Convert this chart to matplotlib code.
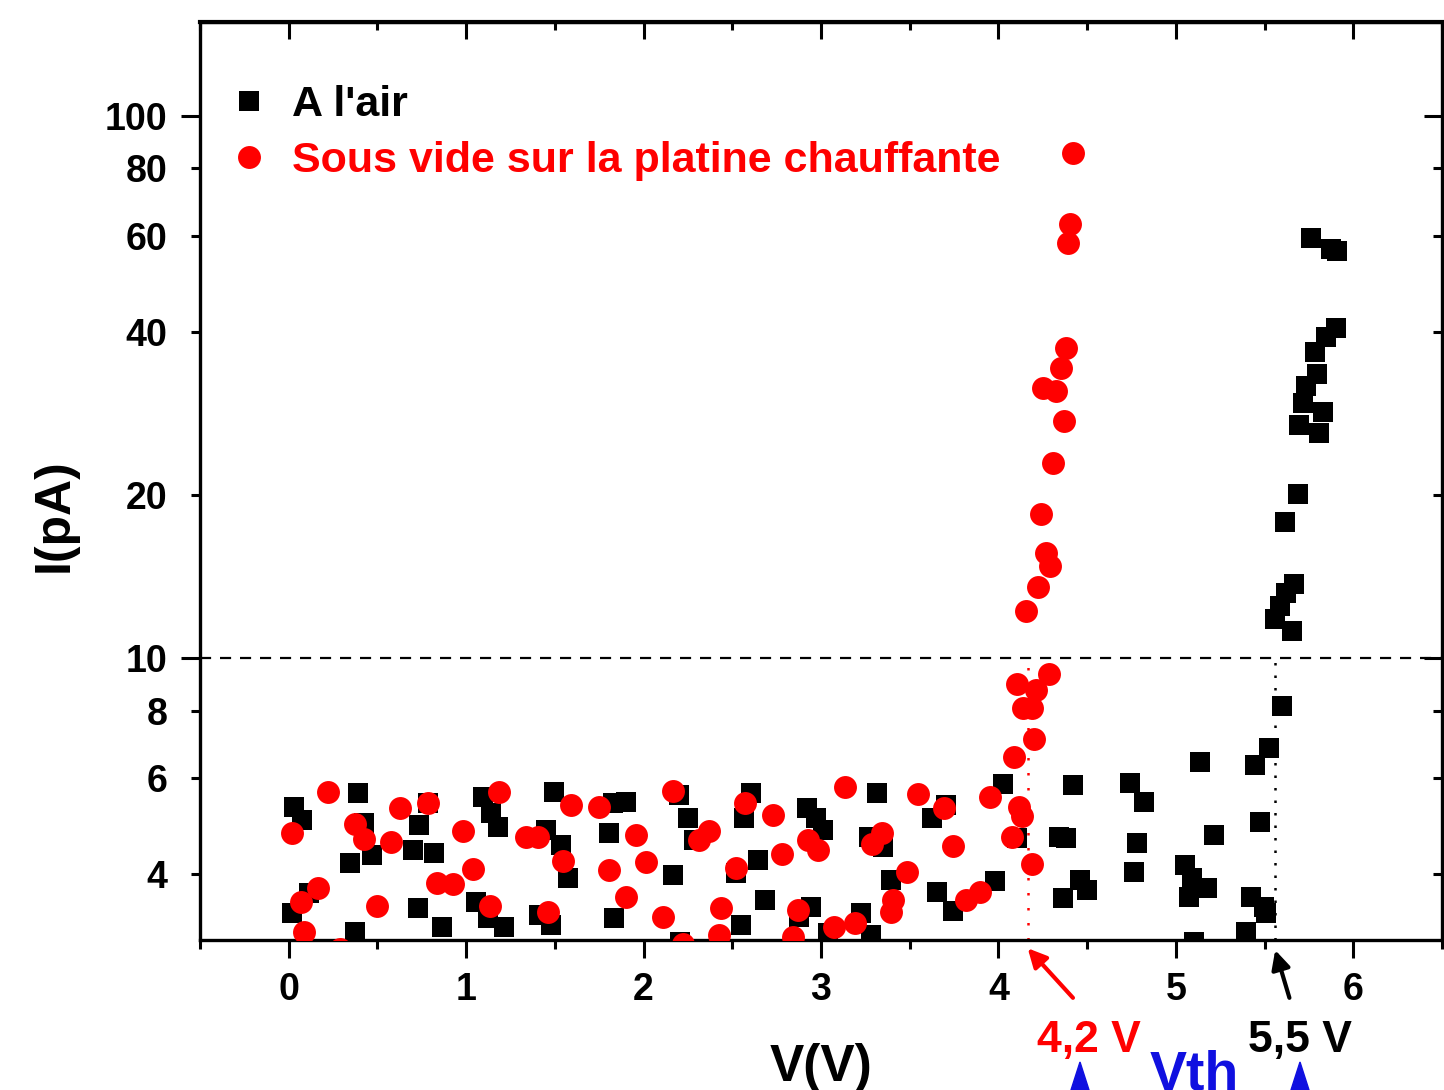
import matplotlib
matplotlib.use("Agg")
import matplotlib.pyplot as plt
import numpy as np

plt.rcParams['font.family'] = ['Liberation Sans', 'DejaVu Sans']
plt.rcParams['font.weight'] = 'bold'

# --- data (V in volts, I in pA) ---
air_v = [0.028, 0.073, 0.017, 0.112, 0.343, 0.388, 0.427, 0.467, 0.371, 0.737,
         0.787, 0.703, 0.821, 0.726, 0.866, 1.097, 1.142, 1.181, 1.057, 1.125,
         1.215, 1.496, 1.451, 1.535, 1.575, 1.412, 1.479, 1.828, 1.901, 1.805,
         1.834, 2.250, 2.199, 2.283, 2.165, 2.205, 2.604, 2.565, 2.643, 2.520,
         2.683, 2.548, 2.919, 2.970, 3.009, 2.942, 2.874, 3.037, 3.223, 3.279,
         3.313, 3.273, 3.352, 3.397, 3.656, 3.746, 3.628, 3.706, 3.982, 4.027,
         4.106, 4.421, 4.342, 4.381, 4.460, 4.499, 4.364, 4.741, 4.820, 4.781,
         4.764, 5.135, 5.444, 5.523, 5.472, 5.214, 5.051, 5.090, 5.174, 5.073,
         5.422, 5.495, 5.506, 5.394, 5.101, 5.596, 5.652, 5.557, 5.585, 5.619,
         5.664, 5.613, 5.686, 5.804, 5.692, 5.832, 5.714, 5.731, 5.793, 5.782,
         5.849, 5.900, 5.872, 5.911, 5.759]
air_i = [5.32, 5.02, 3.38, 3.68, 4.19, 5.63, 4.96, 4.33, 3.13, 4.92,
         5.40, 4.42, 4.37, 3.46, 3.19, 5.54, 5.18, 4.88, 3.55, 3.32,
         3.19, 5.66, 4.82, 4.52, 3.93, 3.36, 3.22, 5.40, 5.43, 4.76,
         3.32, 5.07, 5.58, 4.62, 3.98, 3.00, 5.63, 5.07, 4.24, 4.01,
         3.58, 3.22, 5.29, 5.07, 4.82, 3.48, 3.33, 3.11, 3.38, 3.09,
         5.63, 4.68, 4.48, 3.89, 3.71, 3.42, 5.07, 5.36, 3.88, 5.86,
         4.66, 5.84, 4.68, 4.66, 3.89, 3.73, 3.61, 5.88, 5.43, 4.56,
         4.03, 6.43, 6.35, 6.82, 4.98, 4.72, 4.15, 3.93, 3.76, 3.62,
         3.62, 3.48, 3.39, 3.13, 3.00, 8.15, 11.2, 11.8, 12.5, 13.2,
         13.7, 17.8, 20.1, 26.0, 26.9, 28.4, 29.5, 31.8, 33.4, 36.7,
         39.1, 40.6, 56.9, 56.3, 59.6]

vac_v = [0.017, 0.219, 0.371, 0.427, 0.579, 0.630, 0.787, 0.984, 1.040, 0.838,
         0.928, 0.163, 0.067, 0.084, 0.495, 0.287, 1.136, 1.187, 1.339, 1.406,
         1.547, 1.462, 1.592, 1.749, 1.957, 2.013, 1.805, 1.901, 2.109, 2.165,
         2.368, 2.312, 2.222, 2.435, 2.424, 2.570, 2.728, 2.778, 2.520, 2.925,
         2.981, 2.868, 2.840, 3.133, 3.076, 3.194, 3.549, 3.695, 3.341, 3.285,
         3.746, 3.487, 3.403, 3.397, 3.819, 3.898, 3.954, 4.089, 4.201, 4.117,
         4.134, 4.078, 4.190, 4.286, 4.106, 4.213, 4.140, 4.190, 4.156, 4.224,
         4.291, 4.269, 4.241, 4.308, 4.370, 4.325, 4.252, 4.353, 4.381, 4.393,
         4.404, 4.421]
vac_i = [4.76, 5.66, 4.94, 4.64, 4.58, 5.29, 5.40, 4.80, 4.08, 3.84,
         3.83, 3.76, 3.55, 3.13, 3.49, 2.91, 3.49, 5.66, 4.68, 4.68,
         4.22, 3.40, 5.36, 5.32, 4.72, 4.21, 4.06, 3.62, 3.33, 5.68,
         4.80, 4.62, 2.97, 3.46, 3.09, 5.40, 5.14, 4.35, 4.10, 4.62,
         4.42, 3.43, 3.06, 5.78, 3.19, 3.25, 5.61, 5.29, 4.76, 4.54,
         4.50, 4.03, 3.58, 3.40, 3.58, 3.70, 5.54, 6.57, 7.09, 5.32,
         5.11, 4.68, 4.17, 9.34, 8.95, 8.73, 8.10, 8.10, 12.2, 13.5,
         14.8, 15.6, 18.4, 22.9, 27.4, 31.1, 31.5, 34.3, 37.3, 58.3,
         63.2, 85.4]

x_major = [0, 1, 2, 3, 4, 5, 6]
x_minor = [-0.5, 0.5, 1.5, 2.5, 3.5, 4.5, 5.5, 6.5]
y_major = [10, 100]
y_minor = [4, 6, 8, 20, 40, 60, 80]

vth_vac = 4.165
vth_air = 5.56
i_ref = 10

fig = plt.figure(figsize=(14.44, 10.90), dpi=100)
ax = fig.add_axes([200 / 1444, 1 - 940 / 1090, 1242 / 1444, 918 / 1090])

ax.plot(air_v, air_i, 's', color='black', markersize=14.5, markeredgewidth=0,
        label="A l'air", zorder=3)
ax.plot(vac_v, vac_i, 'o', color='red', markersize=16.5, markeredgewidth=0,
        label="Sous vide sur la platine chauffante", zorder=4)

ax.set_yscale('log')
ax.set_xlim(-0.5, 6.5)
ax.set_ylim(3.02, 149)

ax.axhline(i_ref, color='black', linestyle=(0, (5, 4)), linewidth=1.6, zorder=2)
ax.plot([vth_vac, vth_vac], [3.02, i_ref], color='red', linestyle=(0, (1, 5)),
        linewidth=1.8, zorder=2)
ax.plot([vth_air, vth_air], [3.02, i_ref], color='black', linestyle=(0, (1, 4)),
        linewidth=1.8, zorder=5)

for sp in ax.spines.values():
    sp.set_linewidth(2.4)

lab_kw = dict(fontsize=27, fontweight='bold')
ax.set_xticks(x_major, [str(v) for v in x_major], **lab_kw)
ax.set_xticks(x_minor, minor=True)
ax.set_yticks(y_major, [str(v) for v in y_major], **lab_kw)
ax.set_yticks(y_minor, [str(v) for v in y_minor], minor=True, **lab_kw)
ax.tick_params(axis='x', which='major', direction='out', length=13, width=2.2, pad=10)
ax.tick_params(axis='x', which='minor', direction='out', length=6.5, width=2.2)
ax.tick_params(axis='y', which='major', direction='out', length=13.5, width=2.2, pad=10)
ax.tick_params(axis='y', which='minor', direction='out', length=6.5, width=2.2, pad=17)

top = ax.secondary_xaxis('top')
top.set_xticks(x_major, [])
top.set_xticks(x_minor, minor=True)
top.tick_params(which='major', direction='in', length=12.5, width=2.2)
top.tick_params(which='minor', direction='in', length=6, width=2.2)
top.spines['top'].set_linewidth(3)

right = ax.secondary_yaxis('right')
right.set_yticks(y_major, [])
right.set_yticks(y_minor, [], minor=True)
right.tick_params(which='major', direction='in', length=13, width=2.2)
right.tick_params(which='minor', direction='in', length=6.5, width=2.2)

leg = ax.legend(loc='upper left', bbox_to_anchor=(0.01, 0.95), frameon=False,
                prop={'weight': 'bold', 'size': 31},
                labelcolor=['black', 'red'], handlelength=0.9,
                handletextpad=0.55, labelspacing=0.38, markerscale=1.0,
                borderaxespad=0)

fig.text(55 / 1444, 1 - 515 / 1090, 'I(pA)', rotation=90, ha='center',
         va='center', fontsize=36, fontweight='bold')
fig.text(821 / 1444, 1 - 1043 / 1090, 'V(V)', ha='center', va='top',
         fontsize=37, fontweight='bold')

ax.annotate('', xy=(vth_vac, -0.009), xytext=(4.42, -0.063),
            xycoords=('data', 'axes fraction'),
            arrowprops=dict(arrowstyle='-|>', color='red', lw=3,
                            mutation_scale=28, shrinkA=0, shrinkB=0))
ax.annotate('', xy=(vth_air, -0.011), xytext=(5.64, -0.063),
            xycoords=('data', 'axes fraction'),
            arrowprops=dict(arrowstyle='-|>', color='black', lw=3,
                            mutation_scale=28, shrinkA=0, shrinkB=0))
ax.text(4.51, -0.109, '4,2 V', transform=ax.get_xaxis_transform(), ha='center',
        va='center', color='red', fontsize=32, fontweight='bold')
ax.text(5.70, -0.109, '5,5 V', transform=ax.get_xaxis_transform(), ha='center',
        va='center', color='black', fontsize=32, fontweight='bold')

fig.text(1150 / 1444, 1 - 1050 / 1090, 'Vth', ha='left', va='top',
         color='#1010e0', fontsize=40, fontweight='bold')
for xp in (1080, 1300):
    fig.patches.append(plt.Polygon([[(xp - 9) / 1444, 0], [(xp + 9) / 1444, 0],
                                    [xp / 1444, 1 - 1062 / 1090]],
                                   closed=True, color='#1010e0',
                                   transform=fig.transFigure))

fig.savefig('out.png', dpi=100)
